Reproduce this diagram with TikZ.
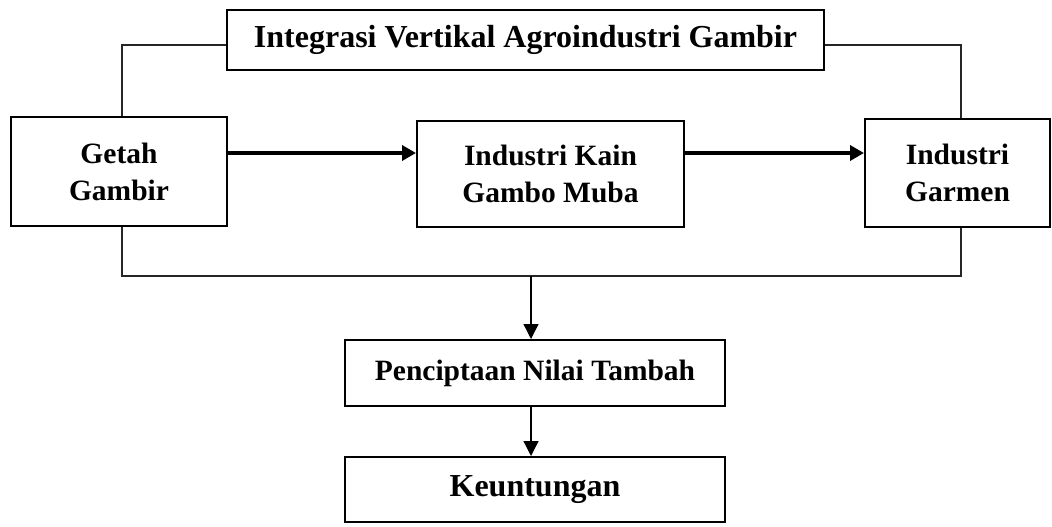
\documentclass[tikz,border=0pt]{standalone}
\usepackage{fontspec}
\setmainfont{Liberation Serif}
\usetikzlibrary{arrows.meta}
\begin{document}
\begin{tikzpicture}[x=1pt,y=-1pt,
  boxnode/.style={draw=black, line width=2pt, fill=white, inner sep=0pt, align=center,
    font=\bfseries\fontsize{29.5}{37}\selectfont},
  thinline/.style={draw=black!85, line width=1.3pt},
  thickarrow/.style={draw=black, line width=4.5pt, -{Triangle[length=14pt,width=15pt]}},
  downarrow/.style={draw=black, line width=1.3pt, -{Triangle[length=15pt,width=15pt]}}]
\useasboundingbox (0,0) rectangle (1052,527);
\node[boxnode, minimum width=597pt, minimum height=60pt, font=\bfseries\fontsize{32}{37}\selectfont] (top) at (525.5,40) {Integrasi Vertikal Agroindustri Gambir};
\node[boxnode, minimum width=216pt, minimum height=109pt] (getah) at (119,171.5) {Getah\\Gambir};
\node[boxnode, minimum width=267pt, minimum height=106pt] (kain) at (550.5,174) {Industri Kain\\Gambo Muba};
\node[boxnode, minimum width=185pt, minimum height=108pt] (garmen) at (957.5,173) {Industri\\Garmen};
\node[boxnode, minimum width=380pt, minimum height=66pt] (pen) at (535,373) {Penciptaan Nilai Tambah};
\node[boxnode, minimum width=380pt, minimum height=65pt, font=\bfseries\fontsize{32}{37}\selectfont] (keu) at (535,489.5) {Keuntungan};
% top connectors
\draw[thinline] ([yshift=-5pt]top.west) -| ([xshift=3pt]getah.north);
\draw[thinline] ([yshift=-5pt]top.east) -| ([xshift=3.5pt]garmen.north);
% bottom connector
\coordinate (bl) at (122,276);
\coordinate (br) at (961,276);
\coordinate (bj) at (531,276);
\draw[thinline] ([xshift=3pt]getah.south) -- (bl) -- (br) -- ([xshift=3.5pt]garmen.south);
% horizontal arrows
\draw[thickarrow] ([yshift=18.5pt]getah.east) -- ([yshift=18.5pt]getah.east -| kain.west);
\draw[thickarrow] ([yshift=21pt]kain.east) -- ([yshift=21pt]kain.east -| garmen.west);
% down arrows
\draw[downarrow] (bj) -- (bj |- pen.north);
\draw[downarrow] ([xshift=-4pt]pen.south) -- ([xshift=-4pt]keu.north);
\end{tikzpicture}
\end{document}
